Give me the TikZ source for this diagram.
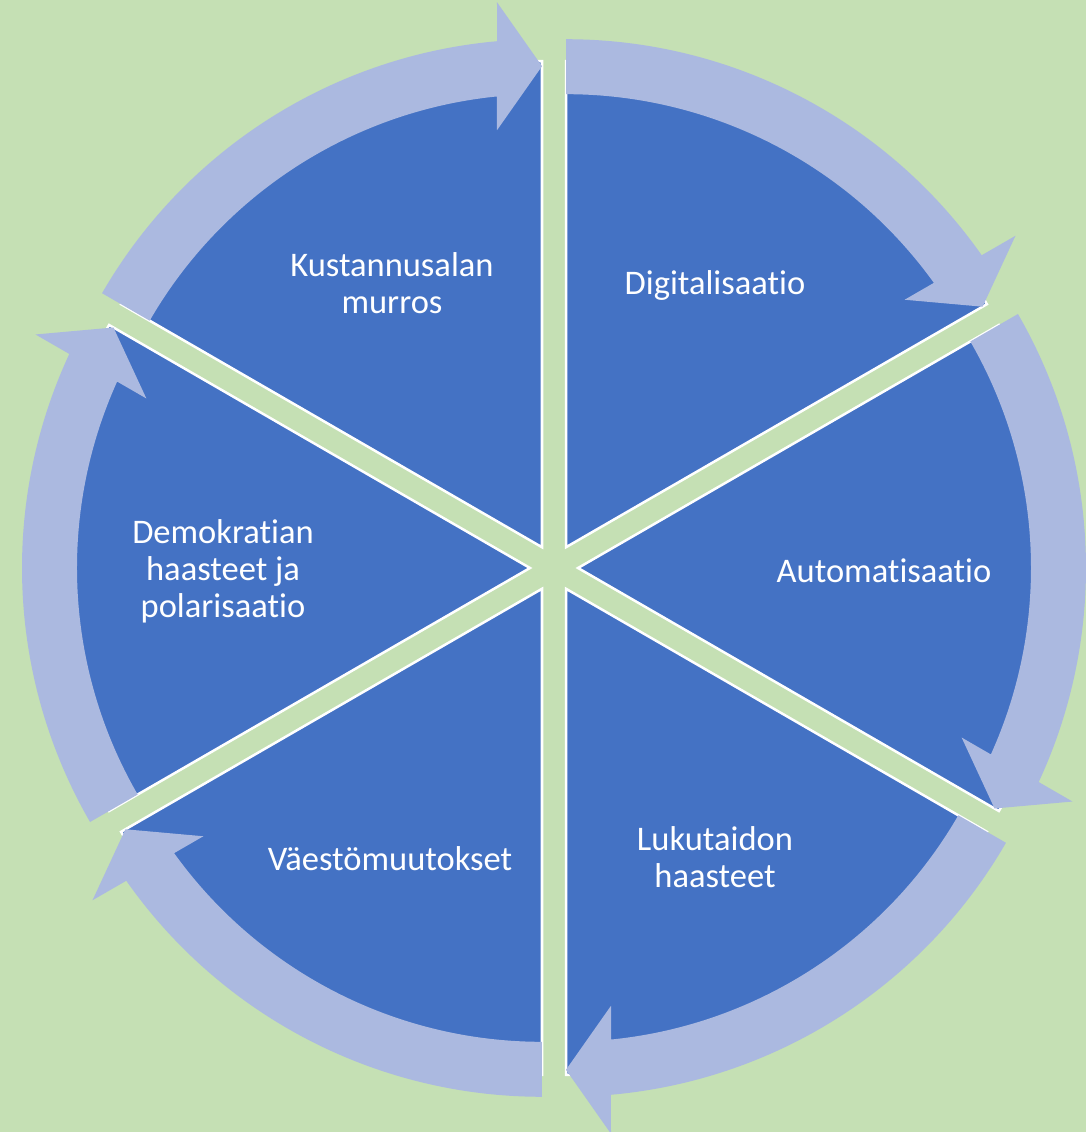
\documentclass[tikz,border=0pt]{standalone}
\usepackage{fontspec}
\setmainfont{Carlito}[Ligatures=NoCommon]
\definecolor{bgc}{RGB}{197,224,180}
\definecolor{secc}{RGB}{68,114,196}
\definecolor{arrc}{RGB}{171,185,224}
\begin{document}
\begin{tikzpicture}[x=1pt,y=1pt,
  sector/.style={fill=secc, draw=white, line width=2.5pt},
  ringarrow/.style={fill=arrc},
  lbl/.style={text=white, font=\fontsize{34.5}{37}\selectfont, align=center, anchor=base, inner sep=0pt}]
\useasboundingbox (-554,-564) rectangle (532,568);
\fill[bgc] (-554,-564) rectangle (532,568);
\foreach \a in {60,0,-60,-120,180,120}{
  \begin{scope}[shift={(\a:24)}, rotate=\a]
    \filldraw[sector] (0,0) -- (-30:486) arc[start angle=-30,end angle=30,radius=486] -- cycle;
  \end{scope}
}
\foreach \a in {60,0,-60,-120,180,120}{
  \begin{scope}[shift={(\a:24)}, rotate=\a-30]
    \fill[ringarrow] (60:508) arc[start angle=60,end angle=5.082,radius=508] -- (545,45) -- (481,0) -- (417,45) -- (450.76,45) arc[start angle=5.701,end angle=60,radius=453] -- cycle;
  \end{scope}
}
% multi-line labels: base anchor is the baseline of the last line
\node[lbl] (kust) at (-162,254) {Kustannusalan\\murros};
\node[lbl] (digi) at (161,273) {Digitalisaatio};
\node[lbl] (auto) at (330,-15) {Automatisaatio};
\node[lbl] (luku) at (161,-319) {Lukutaidon\\haasteet};
\node[lbl] (vaes) at (-164,-302) {Väestömuutokset};
\node[lbl] (demo) at (-331,-49) {Demokratian\\haasteet ja\\polarisaatio};
\end{tikzpicture}
\end{document}
